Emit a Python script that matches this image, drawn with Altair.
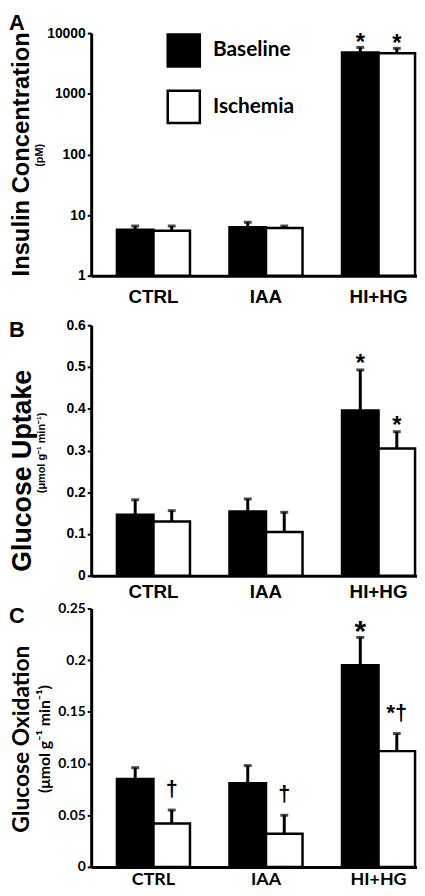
import altair as alt
import pandas as pd

categories = ["CTRL", "IAA", "HI+HG"]
series = ["Baseline", "Ischemia"]

# Panel A: insulin concentration (pM), log scale
insulin_baseline = [5.7, 6.3, 4800]
insulin_baseline_sem = [0.9, 1.3, 1000]
insulin_ischemia = [5.5, 6.1, 4650]
insulin_ischemia_sem = [1.1, 0.5, 950]
insulin_marks_baseline = ["", "", "*"]
insulin_marks_ischemia = ["", "", "*"]

# Panel B: glucose uptake
uptake_baseline = [0.146, 0.154, 0.396]
uptake_baseline_sem = [0.036, 0.030, 0.097]
uptake_ischemia = [0.130, 0.105, 0.305]
uptake_ischemia_sem = [0.026, 0.047, 0.040]
uptake_marks_baseline = ["", "", "*"]
uptake_marks_ischemia = ["", "", "*"]

# Panel C: glucose oxidation
oxid_baseline = [0.085, 0.081, 0.195]
oxid_baseline_sem = [0.011, 0.017, 0.027]
oxid_ischemia = [0.042, 0.032, 0.112]
oxid_ischemia_sem = [0.013, 0.018, 0.017]
oxid_marks_baseline = ["", "", "*"]
oxid_marks_ischemia = ["\u2020", "\u2020", "*\u2020"]

ticks_A = [1, 10, 100, 1000, 10000]
ticks_B = [0, 0.1, 0.2, 0.3, 0.4, 0.5, 0.6]
ticks_C = [0, 0.05, 0.1, 0.15, 0.2, 0.25]

ARIAL = "Liberation Sans"
CAL = "Lato"
W = 329


def make_df(b, bs, i, isem, mb, mi):
    rows = []
    for k, c in enumerate(categories):
        rows.append(dict(category=c, series="Baseline", value=b[k], top=b[k] + bs[k], mark=mb[k]))
        rows.append(dict(category=c, series="Ischemia", value=i[k], top=i[k] + isem[k], mark=mi[k]))
    return pd.DataFrame(rows)


def label(text, x, y, size, font, angle=0, baseline="alphabetic", align="center"):
    return alt.Chart(pd.DataFrame({"t": [text]})).mark_text(
        font=font, fontWeight="bold", fontSize=size, angle=angle,
        baseline=baseline, align=align, color="black"
    ).encode(text="t:N", x=alt.value(x), y=alt.value(y))


def panel(df, height, yscale, yaxis, xfont, xsize, xpad, legend, star_cfg, extras):
    base = alt.Chart(df)
    x = alt.X("category:N", sort=categories,
              scale=alt.Scale(paddingInner=0.351, paddingOuter=0.123, align=0.93),
              axis=alt.Axis(title=None, labelAngle=0, ticks=False, domainWidth=3,
                            domainColor="black", labelFont=xfont, labelFontWeight="bold",
                            labelFontSize=xsize, labelPadding=xpad, labelColor="black"))
    xo = alt.XOffset("series:N", sort=series, scale=alt.Scale(paddingInner=0, paddingOuter=0))
    y = alt.Y("value:Q", scale=yscale, axis=yaxis)
    fill = alt.Fill("series:N", sort=series,
                    scale=alt.Scale(domain=series, range=["black", "white"]), legend=legend)
    y2 = alt.datum(1) if yscale.type == "log" else alt.datum(0)
    bars = base.mark_bar(stroke="black", strokeWidth=2.5).encode(x=x, xOffset=xo, y=y, y2=y2, fill=fill)
    rules = base.mark_rule(color="black", strokeWidth=3).encode(
        x=x, xOffset=xo, y=alt.Y("value:Q", scale=yscale), y2="top:Q")
    caps = base.mark_tick(color="black", thickness=3, size=8).encode(
        x=x, xOffset=xo, y=alt.Y("top:Q", scale=yscale))
    layers = [bars, rules, caps]
    for ser, font, size, dy in star_cfg:
        layers.append(base.transform_filter(alt.datum.series == ser).mark_text(
            font=font, fontWeight="bold", fontSize=size, dy=dy, baseline="alphabetic",
            color="black").encode(x=x, xOffset=xo, y=alt.Y("top:Q", scale=yscale), text="mark:N"))
    layers += extras
    return alt.layer(*layers).resolve_scale(fill="independent").properties(width=W, height=height)


def yaxis(values, font, size, expr):
    return alt.Axis(title=None, values=values, grid=False, domainWidth=3, domainColor="black",
                    tickColor="black", tickWidth=2, tickSize=4, labelFont=font,
                    labelFontWeight="bold", labelFontSize=size, labelColor="black",
                    labelPadding=2, labelExpr=expr)


dfA = make_df(insulin_baseline, insulin_baseline_sem, insulin_ischemia, insulin_ischemia_sem,
              insulin_marks_baseline, insulin_marks_ischemia)
dfB = make_df(uptake_baseline, uptake_baseline_sem, uptake_ischemia, uptake_ischemia_sem,
              uptake_marks_baseline, uptake_marks_ischemia)
dfC = make_df(oxid_baseline, oxid_baseline_sem, oxid_ischemia, oxid_ischemia_sem,
              oxid_marks_baseline, oxid_marks_ischemia)

HA, HB, HC = 245, 253, 261

legendA = alt.Legend(title=None, orient="none", legendX=76, legendY=0, symbolType="square",
                     symbolSize=1050, symbolStrokeColor="black", symbolStrokeWidth=2.5,
                     labelFont=CAL, labelFontWeight="bold", labelFontSize=21, labelColor="black",
                     rowPadding=14, labelOffset=12, padding=0)

pA = panel(dfA, HA,
           alt.Scale(type="log", domain=[1, 10000]),
           yaxis(ticks_A, ARIAL, 14, "format(datum.value, 'd')"),
           ARIAL, 19, 12, legendA,
           [("Baseline", ARIAL, 24, 3), ("Ischemia", ARIAL, 24, 3)],
           [label("A", -83, -20, 22, ARIAL, baseline="top", align="left"),
            label("Insulin Concentration", -63, HA / 2, 24, ARIAL, angle=270),
            label("(pM)", -49, HA / 2 + 1, 11, ARIAL, angle=270)])

pB = panel(dfB, HB,
           alt.Scale(domain=[0, 0.6]),
           yaxis(ticks_B, ARIAL, 14, "datum.value == 0 ? '0' : format(datum.value, '.1f')"),
           ARIAL, 19, 7, None,
           [("Baseline", ARIAL, 24, 1), ("Ischemia", ARIAL, 24, 1)],
           [label("B", -83, -5, 22, ARIAL, baseline="top", align="left"),
            label("Glucose Uptake", -61, 147, 27, ARIAL, angle=270),
            label("(\u03bcmol g\u207b\u00b9 min\u207b\u00b9)", -47, 129, 11, ARIAL, angle=270)])

pC = panel(dfC, HC,
           alt.Scale(domain=[0, 0.25]),
           yaxis(ticks_C, CAL, 14,
                 "datum.value == 0 ? '0' : abs(datum.value - 0.2) < 1e-9 ? '0.2' : format(datum.value, '.2f')"),
           CAL, 18, 4, None,
           [("Baseline", ARIAL, 30, 4), ("Ischemia", ARIAL, 22, -14)],
           [label("C", -83, -2, 22, ARIAL, baseline="top", align="left"),
            label("Glucose Oxidation", -63, 132, 23, CAL, angle=270),
            label("(\u03bcmol g\u207b\u00b9 min\u207b\u00b9)", -42, 132, 16, CAL, angle=270)])

top_two = alt.vconcat(pA, pB, spacing=12)
chart = alt.vconcat(top_two, pC, spacing=0).resolve_scale(
    y="independent", x="independent", fill="independent", xOffset="independent"
).resolve_legend(fill="independent").properties(padding=0).configure_view(stroke=None)

chart.save("out.html", embed_options={"renderer": "svg", "actions": False})
